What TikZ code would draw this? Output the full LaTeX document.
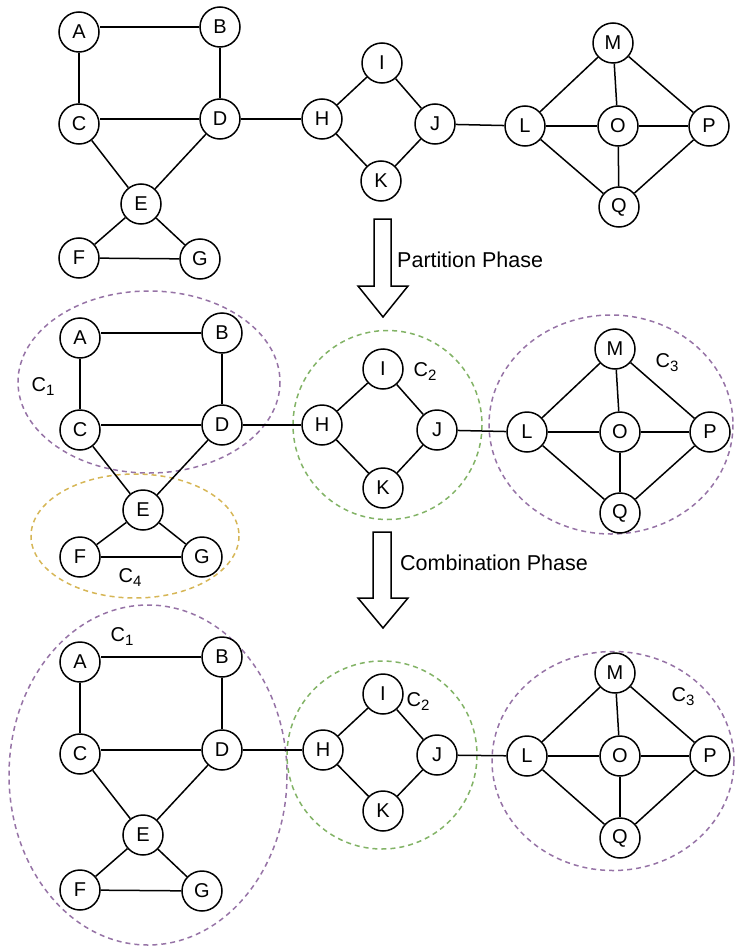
\documentclass[tikz,border=0pt]{standalone}
\usepackage{fontspec}
\setmainfont{Liberation Sans}
\definecolor{cpurple}{HTML}{9673A6}
\definecolor{cgreen}{HTML}{82B366}
\definecolor{corange}{HTML}{D6B656}
\newcommand{\clab}[1]{C\raisebox{-4pt}{\fontsize{15}{15}\selectfont #1}}
\begin{document}
\begin{tikzpicture}[x=1pt,y=-1pt,
  vert/.style={circle,draw=black,line width=1.5pt,fill=white,minimum size=40pt,inner sep=0pt,font=\fontsize{20}{20}\selectfont},
  edge/.style={draw=black,line width=1.5pt},
  grp/.style={dash pattern=on 5pt off 4pt,line width=1.5pt},
  lbl/.style={inner sep=0pt,font=\fontsize{20}{20}\selectfont},
  phase/.style={inner sep=0pt,anchor=west,font=\fontsize{21.5}{21.5}\selectfont},
  blockarrow/.style={draw=black,line width=1.5pt,fill=white,line join=miter}]
\useasboundingbox (0,0) rectangle (734,947);

% group outlines (drawn first)
\draw[grp,cpurple] (149,382) ellipse [x radius=131,y radius=91];
\draw[grp,corange] (135,536) ellipse [x radius=104,y radius=62];
\draw[grp,cgreen] (387.5,425) ellipse [x radius=94.5,y radius=94.5];
\draw[grp,cpurple] (611,424.5) ellipse [x radius=122,y radius=109.5];
\draw[grp,cpurple] (148,775) ellipse [x radius=139,y radius=170];
\draw[grp,cgreen] (382,755) ellipse [x radius=95,y radius=94];
\draw[grp,cpurple] (613,761) ellipse [x radius=121,y radius=109.5];

% top graph
\foreach \n/\x/\y in {A/79/32,B/220/27,C/79/124,D/220/119,E/141/204,F/79/258,G/200/259,
  H/322/119,I/382/63,J/435/124,K/381/181,L/525/126,M/613/43,O/618/126,P/709/126,Q/619/207}
  \node[vert] (t\n) at (\x,\y) {\n};
% middle graph
\foreach \n/\x/\y in {A/80/338,B/222/333,C/80/430,D/222/425,E/143/510,F/80/557,G/202/557,
  H/322/425,I/383/369,J/437/430,K/383/488,L/527/432,M/615/349,O/620/432,P/710/432,Q/620/513}
  \node[vert] (m\n) at (\x,\y) {\n};
% bottom graph
\foreach \n/\x/\y in {A/80/662,B/222/657,C/80/754,D/222/750,E/143/835,F/80/890,G/202/891,
  H/323/750,I/383/694,J/437/755,K/383/811,L/527/756,M/615/673,O/620/756,P/710/756,Q/620/838}
  \node[vert] (b\n) at (\x,\y) {\n};

\foreach \p in {t,m,b}{
  \foreach \a/\b in {A/C,B/D,C/E,D/E,E/F,E/G,F/G,D/H,H/I,H/K,I/J,K/J,J/L,
    L/M,L/O,L/Q,M/O,M/P,O/P,O/Q,P/Q}
    \draw[edge] (\p\a) -- (\p\b);
  \draw[edge] (\p B.west) -- (\p A.east |- \p B.west);
  \draw[edge] (\p D.west) -- (\p C.east |- \p D.west);
}

% group labels
\node[lbl] (lm1) at (43,387) {\clab{1}};
\node[lbl] (lm4) at (130,578) {\clab{4}};
\node[lbl] (lm2) at (425,372) {\clab{2}};
\node[lbl] (lm3) at (667,363) {\clab{3}};
\node[lbl] (lb1) at (122,637) {\clab{1}};
\node[lbl] (lb2) at (418,702) {\clab{2}};
\node[lbl] (lb3) at (683,697) {\clab{3}};

% phase arrows
\draw[blockarrow] (374,219) -- (391,219) -- (391,286) -- (408,286) -- (383,317)
  -- (358,286) -- (374,286) -- cycle;
\node[phase] (p1) at (397,260) {Partition Phase};
\draw[blockarrow] (373,532) -- (391,532) -- (391,598) -- (408,598) -- (383,628)
  -- (358,598) -- (373,598) -- cycle;
\node[phase] (p2) at (400,563) {Combination Phase};
\end{tikzpicture}
\end{document}
